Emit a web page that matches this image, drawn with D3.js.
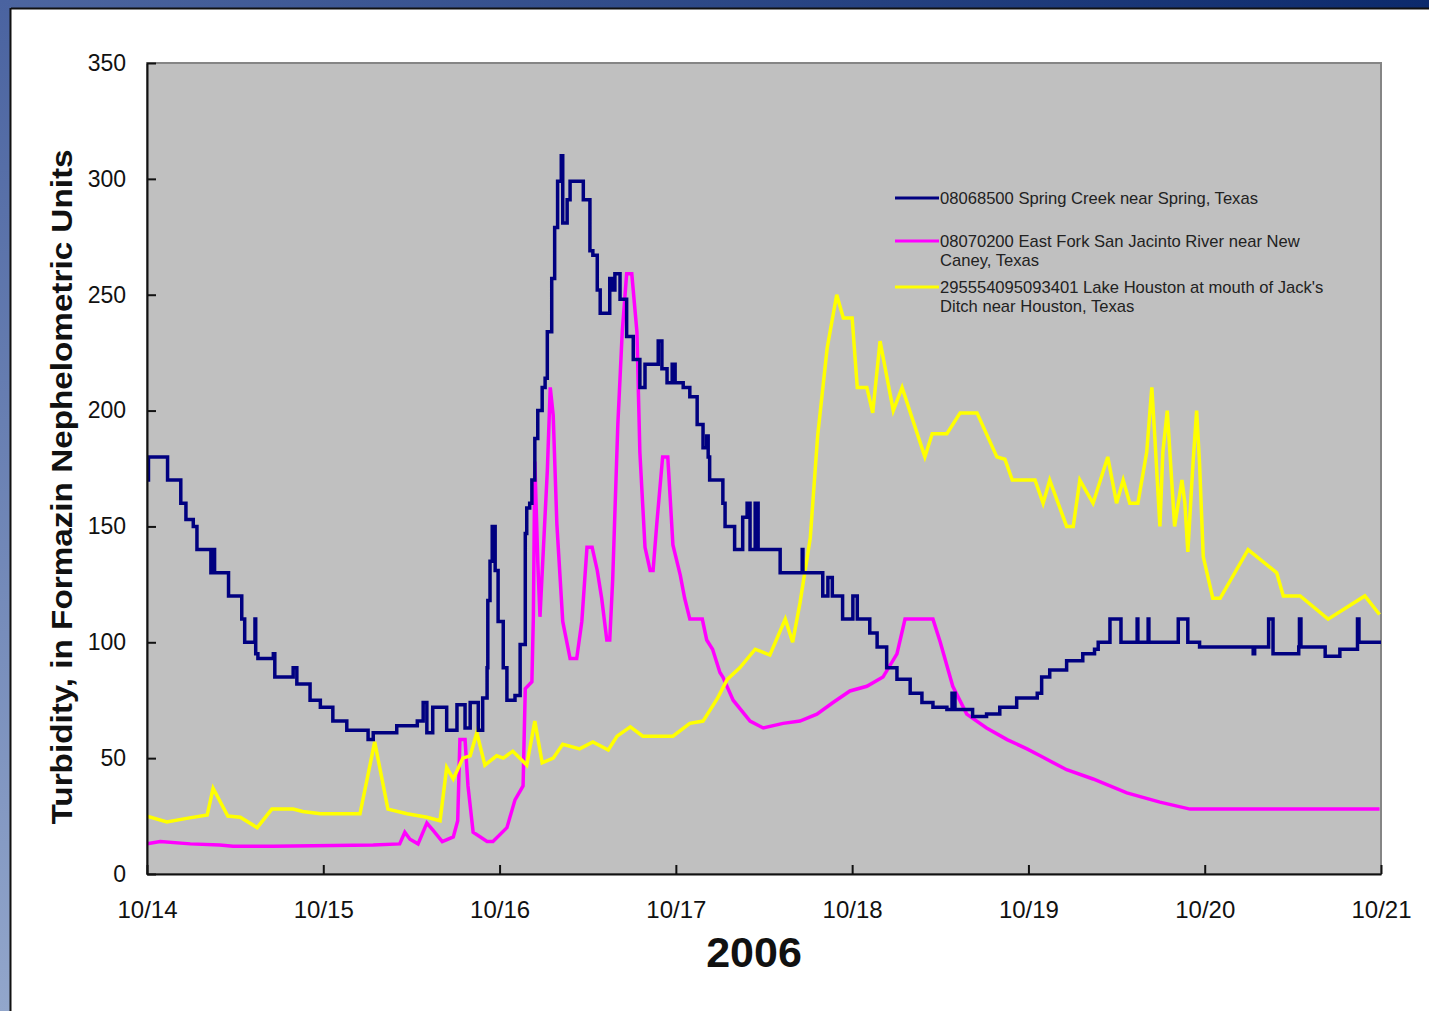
<!DOCTYPE html>
<html>
<head>
<meta charset="utf-8">
<script src="https://cdn.jsdelivr.net/npm/d3@7"></script>
<style>
  body { margin: 0; background: #fff; }
  svg { display: block; font-family: 'Liberation Sans', Arial, sans-serif; }
</style>
</head>
<body>
<svg width="1429" height="1011"></svg>
<script>
// hours after 10/14 00:00 and turbidity values
const springHours = [0,0.2,2.7,2.8,4.5,4.6,5.2,5.3,6.3,6.8,8.6,8.7,9,9.2,11,11.1,12.7,12.9,13.3,14.4,14.7,14.8,15.1,17.2,17.4,19.9,20.4,22.2,23.6,25.3,27.2,30.1,30.8,34,36.8,37.6,38.1,38.9,40.8,42.2,43.3,44,45.1,45.7,46.3,46.4,46.7,47,47.4,47.8,48.5,49,50.1,50.8,51.5,51.7,52.1,52.4,52.8,53.2,53.8,54.2,54.5,55.1,55.5,55.9,56.4,56.6,57.2,57.6,59.2,59.4,60.3,60.7,61.3,61.7,62.3,63,63.4,63.7,64.4,65.3,66.2,67.1,67.8,68.9,69.6,70.1,70.8,71.5,71.9,73,73.9,74.9,75.7,76.2,76.4,76.6,77.7,78.4,78.7,79.8,80,81.1,81.7,82.1,82.8,83.2,85.9,86.2,88.6,89.2,89.3,91.9,92,92.7,93.3,94.3,94.7,96.1,96.7,97.7,98.4,99.4,100.7,102.1,103.9,105.5,107,108.9,109.6,110,111.1,112.4,114.3,116.1,118.4,121.2,121.8,122.9,125.2,127.4,129,129.5,130.8,131.1,132.5,132.6,134.6,134.8,134.9,136.1,136.3,136.4,140.2,140.4,141.6,141.7,143.3,147.8,150.6,150.8,152.6,152.7,153.2,153.3,156.8,156.9,157.1,160.4,162.4,164.7,164.8,165,168];
const springValues = [170,180,180,170,170,160,160,153,150,140,140,130,140,130,130,120,120,110,100,100,110,95,93,95,85,89,82,75,72,66,62,58,61,64,66,74,61,72,62,73,63,74,62,76,89,118,135,150,131,109,89,75,77,99,147,158,160,170,188,200,210,214,234,257,279,299,310,281,291,299,299,291,269,267,252,242,242,257,252,259,248,232,222,210,220,220,230,218,212,220,212,210,206,194,184,189,180,170,170,160,150,150,140,154,160,140,160,140,140,130,130,140,130,130,120,128,120,120,110,120,110,110,104,98,89,84,78,74,72,71,78,71,71,68,69,72,76,78,85,88,92,95,97,100,100,110,110,100,100,110,100,100,110,100,100,110,110,100,98,98,95,98,98,110,110,95,98,110,98,94,97,97,110,100,100];

const sanJacintoHours = [0,1.8,5.9,9.9,11.7,17.2,30.8,34.4,35.1,35.8,36.9,38.1,38.9,40.2,41.7,42.3,42.6,43.3,43.7,44.4,46.3,47.1,49,50.1,51.2,51.5,52.4,52.6,52.8,53.2,53.5,54.5,54.9,55.3,55.8,56.6,57.6,58.5,59.2,59.9,60.6,61.3,61.9,62.6,63,63.4,64.1,64.7,65.3,66,66.7,67.1,67.8,68.5,68.9,69.4,70.2,70.9,71.6,72.6,73.2,73.9,75.6,76.2,77,78,78.4,79.8,82.1,83.9,86.6,88.9,91.2,93.4,95.7,98,100.2,102.1,103.2,107,108,109.7,111.6,114.3,117.1,119.8,121.6,125.2,128.8,133.4,137.9,142,147.8,167.8];
const sanJacintoValues = [13,14,13,12.5,12,12,12.5,13,18,15,13,22,19,14,16,23,58,58,38,18,14,14,20,32,38,80,83,111,178,135,111,174,210,198,151,109,93,93,109,141,141,131,119,101,101,127,194,234,259,259,234,182,141,131,131,151,180,180,142,129,119,110,110,101,97,87,85,75,66,63,65,66,69,74,79,81,85,95,110,110,100,81,69,63,58,54,51,45,41,35,31,28,28,28];

const lakeHours = [0,2.7,5.4,8.2,9,11,12.7,15,17,19.9,21.2,23.6,29,31,32.8,35.4,38.1,39.9,40.8,41.7,43,44,44.9,46,47.6,48.5,49.8,51.7,52.8,53.8,55.3,56.6,58.9,60.7,62.8,64,65.8,67.5,71.6,73.9,75.7,77.7,79,80.7,82.8,84.8,86.9,87.9,88.9,90.3,91.3,92.6,93.9,94.8,96,96.7,98,98.8,99.8,101.6,102.8,105.9,106.9,108.9,110.7,113,115.7,116.8,117.8,120.9,122,122.9,125.2,126.1,127,128.8,130.8,132,132.9,133.8,134.9,136.1,136.8,137.2,137.9,138.3,138.9,139.5,139.9,140.9,141.3,141.7,142.4,142.9,143.3,143.8,145.1,146.1,149.9,153.8,154.7,157,160.8,165.8,167.8];
const lakeValues = [25,22.5,24,25.5,37,25,24.5,20,28,28,27,26,26,57,28,26,24.5,23,46,41,50,51,61,47,51,50,53,47,66,48,50,56,54,57,53.5,59.5,63.5,59.5,59.5,65,66,76,84,89,97,94.5,110,100,117,145,189,227,250,240,240,210,210,199,230,200,210,180,190,190,199,199,180,179,170,170,160,170,150,150,170,160,180,160,170,160,160,182,210,189,150,182,200,170,150,170,160,139,177,200,177,137,119,119,140,130,120,120,110,120,112];

const seriesNames = [
  ['08068500 Spring Creek near Spring, Texas'],
  ['08070200 East Fork San Jacinto River near New', 'Caney, Texas'],
  ['295554095093401 Lake Houston at mouth of Jack\'s', 'Ditch near Houston, Texas']
];
const seriesColors = ['#000080', '#ff00ff', '#ffff00'];
const yTicks = [0, 50, 100, 150, 200, 250, 300, 350];
const dayLabels = ['10/14', '10/15', '10/16', '10/17', '10/18', '10/19', '10/20', '10/21'];

const svg = d3.select('svg');
const width = +svg.attr('width');
const height = +svg.attr('height');
const font = "'Liberation Sans', Arial, sans-serif";

// slide frame
const defs = svg.append('defs');
const gTop = defs.append('linearGradient').attr('id', 'gTop');
gTop.append('stop').attr('offset', '0%').attr('stop-color', '#4d66a0');
gTop.append('stop').attr('offset', '100%').attr('stop-color', '#0c2a6c');
const gLeft = defs.append('linearGradient').attr('id', 'gLeft')
  .attr('x1', 0).attr('x2', 0).attr('y1', 0).attr('y2', 1);
gLeft.append('stop').attr('offset', '0%').attr('stop-color', '#4a63a0');
gLeft.append('stop').attr('offset', '100%').attr('stop-color', '#92a6cb');

svg.append('rect').attr('width', width).attr('height', 8).attr('fill', 'url(#gTop)');
svg.append('rect').attr('width', 10).attr('height', height).attr('fill', 'url(#gLeft)');
svg.append('line').attr('x1', 11).attr('x2', width).attr('y1', 8.5).attr('y2', 8.5)
  .attr('stroke', '#111').attr('stroke-width', 2);
svg.append('line').attr('x1', 10.5).attr('x2', 10.5).attr('y1', 8).attr('y2', height)
  .attr('stroke', '#111').attr('stroke-width', 2);

const margin = { top: 63, right: 48, bottom: 137, left: 147 };
const innerWidth = width - margin.left - margin.right;
const innerHeight = height - margin.top - margin.bottom;

const start = new Date(2006, 9, 14);
const toDate = h => new Date(start.getTime() + h * 3600 * 1000);

const xScale = d3.scaleTime()
  .domain([start, new Date(2006, 9, 21)])
  .range([0, innerWidth]);

const yScale = d3.scaleLinear()
  .domain([0, 350])
  .range([innerHeight, 0]);

const g = svg.append('g')
  .attr('transform', `translate(${margin.left},${margin.top})`);

g.append('rect')
  .attr('width', innerWidth)
  .attr('height', innerHeight)
  .attr('fill', '#c0c0c0')
  .attr('stroke', '#858585')
  .attr('stroke-width', 2);

const clip = defs.append('clipPath').attr('id', 'plotClip');
clip.append('rect').attr('width', innerWidth).attr('height', innerHeight);

const series = [
  { hours: sanJacintoHours, values: sanJacintoValues, color: seriesColors[1], curve: d3.curveLinear },
  { hours: lakeHours, values: lakeValues, color: seriesColors[2], curve: d3.curveLinear },
  { hours: springHours, values: springValues, color: seriesColors[0], curve: d3.curveStepAfter }
];

const lines = g.append('g').attr('clip-path', 'url(#plotClip)');
series.forEach(s => {
  const pts = s.hours.map((h, i) => [toDate(h), s.values[i]]);
  const lineGenerator = d3.line()
    .x(d => xScale(d[0]))
    .y(d => yScale(d[1]))
    .curve(s.curve);
  lines.append('path')
    .attr('d', lineGenerator(pts))
    .attr('fill', 'none')
    .attr('stroke', s.color)
    .attr('stroke-width', 3.5)
    .attr('stroke-linejoin', 'miter');
});

const xAxis = d3.axisBottom(xScale)
  .tickValues(dayLabels.map((d, i) => new Date(2006, 9, 14 + i)))
  .tickFormat((d, i) => dayLabels[i])
  .tickSizeInner(-9)
  .tickSizeOuter(0)
  .tickPadding(36);

const yAxis = d3.axisLeft(yScale)
  .tickValues(yTicks)
  .tickSizeInner(-9)
  .tickSizeOuter(0)
  .tickPadding(21);

const xAxisG = g.append('g').call(xAxis)
  .attr('transform', `translate(0,${innerHeight})`)
  .attr('font-family', font);
xAxisG.selectAll('line, path').attr('stroke', '#111').attr('stroke-width', 2);
xAxisG.selectAll('text').attr('font-size', 24).attr('fill', '#111').attr('dy', '0.35em');

const yAxisG = g.append('g').call(yAxis)
  .attr('font-family', font);
yAxisG.selectAll('line, path').attr('stroke', '#111').attr('stroke-width', 2);
yAxisG.selectAll('text').attr('font-size', 23).attr('fill', '#111');

g.append('text')
  .attr('x', xScale(toDate(84)) - 10)
  .attr('y', innerHeight + 93)
  .attr('text-anchor', 'middle')
  .attr('font-size', 43)
  .attr('font-weight', 'bold')
  .attr('fill', '#111')
  .text('2006');

g.append('text')
  .attr('transform', `rotate(-90)`)
  .attr('x', -424)
  .attr('y', -75)
  .attr('text-anchor', 'middle')
  .attr('font-size', 30)
  .attr('font-weight', 'bold')
  .attr('fill', '#111')
  .attr('textLength', 675)
  .attr('lengthAdjust', 'spacingAndGlyphs')
  .text('Turbidity, in Formazin Nephelometric Units');

// legend
const legendRows = [135, 178, 224];
const legend = g.append('g').attr('transform', `translate(${748},0)`);
seriesNames.forEach((lines, i) => {
  const row = legend.append('g').attr('transform', `translate(0,${legendRows[i]})`);
  row.append('line')
    .attr('x1', 0).attr('x2', 44)
    .attr('stroke', seriesColors[i])
    .attr('stroke-width', 3);
  lines.forEach((t, j) => {
    row.append('text')
      .attr('x', 45)
      .attr('y', j * 19)
      .attr('dy', '0.35em')
      .attr('font-size', 16.6)
      .attr('fill', '#222')
      .text(t);
  });
});
</script>
</body>
</html>
